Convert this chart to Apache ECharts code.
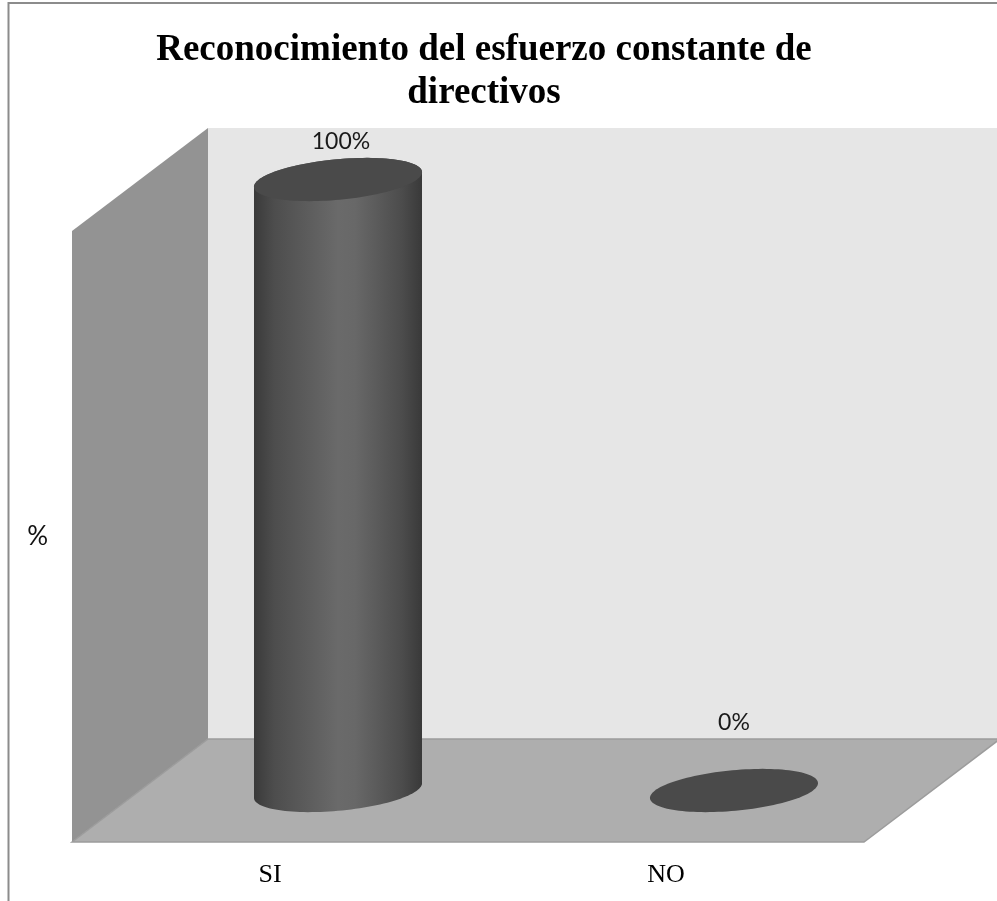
<!DOCTYPE html>
<html>
<head>
<meta charset="utf-8">
<style>
  html, body { margin: 0; padding: 0; background: #ffffff; }
  #chart { width: 997px; height: 901px; }
</style>
<script src="https://cdn.jsdelivr.net/npm/echarts@6/dist/echarts.min.js"></script>
</head>
<body>
<div id="chart"></div>
<script>
const categories = ['SI', 'NO'];
const percentValues = [100, 0];
const chartTitle = 'Reconocimiento del esfuerzo constante de\ndirectivos';
const valueAxisName = '%';

// Oblique projection of the 3D box: the full depth shifts a point right and up.
const DEPTH_X = 136;
const DEPTH_Y = -103;
const RADIUS_X = 79;      // cylinder half-width along the x direction
const RADIUS_DEPTH = 0.21; // cylinder radius as a share of the full depth
const LABEL_LIFT = { top: 38, flat: 68 };

// Point on the cylinder's elliptical section around (cx, cy).
function sectionPoint(cx, cy, t) {
  return [
    cx + RADIUS_X * Math.cos(t) + RADIUS_DEPTH * DEPTH_X * Math.sin(t),
    cy + RADIUS_DEPTH * DEPTH_Y * Math.sin(t)
  ];
}

function sectionOutline(cx, cy, from, to, steps) {
  const pts = [];
  for (let i = 0; i <= steps; i++) {
    pts.push(sectionPoint(cx, cy, from + (to - from) * i / steps));
  }
  return pts;
}

function renderBox(params) {
  const g = params.coordSys;
  const left = g.x, right = g.x + g.width, top = g.y, bottom = g.y + g.height;
  const edge = '#9c9c9c';
  return {
    type: 'group',
    children: [
      { type: 'polygon', shape: { points: [
          [left + DEPTH_X, top + DEPTH_Y], [right + DEPTH_X, top + DEPTH_Y],
          [right + DEPTH_X, bottom + DEPTH_Y], [left + DEPTH_X, bottom + DEPTH_Y]] },
        style: { fill: '#e6e6e6' } },
      { type: 'polygon', shape: { points: [
          [left, top], [left + DEPTH_X, top + DEPTH_Y],
          [left + DEPTH_X, bottom + DEPTH_Y], [left, bottom]] },
        style: { fill: '#939393' } },
      { type: 'polygon', shape: { points: [
          [left, bottom], [left + DEPTH_X, bottom + DEPTH_Y],
          [right + DEPTH_X, bottom + DEPTH_Y], [right, bottom]] },
        style: { fill: '#aeaeae', stroke: edge, lineWidth: 1.5 } }
    ]
  };
}

function renderCylinder(params, api) {
  const base = api.coord([api.value(0), 0]);
  const head = api.coord([api.value(0), api.value(1)]);
  const cx = base[0] + DEPTH_X / 2;
  const baseY = base[1] + DEPTH_Y / 2;
  const headY = head[1] + DEPTH_Y / 2;
  const children = [];
  // Tangent angle where the section reaches its leftmost and rightmost points.
  const tangent = Math.atan2(RADIUS_DEPTH * DEPTH_X, RADIUS_X);
  if (baseY - headY > 0.5) {
    const lower = sectionOutline(cx, baseY, tangent + Math.PI, tangent + 2 * Math.PI, 60);
    const upper = sectionOutline(cx, headY, tangent, tangent + Math.PI, 60);
    children.push({
      type: 'polygon',
      shape: { points: upper.concat(lower) },
      style: {
        fill: new echarts.graphic.LinearGradient(0, 0, 1, 0, [
          { offset: 0, color: '#3a3a3a' },
          { offset: 0.12, color: '#4d4d4d' },
          { offset: 0.5, color: '#6a6a6a' },
          { offset: 0.6, color: '#686868' },
          { offset: 0.88, color: '#4c4c4c' },
          { offset: 1, color: '#393939' }
        ])
      }
    });
  }
  children.push({
    type: 'polygon',
    shape: { points: sectionOutline(cx, headY, 0, 2 * Math.PI, 120) },
    style: { fill: '#4a4a4a' }
  });
  const lift = api.value(1) > 0 ? LABEL_LIFT.top : LABEL_LIFT.flat;
  children.push({
    type: 'text',
    style: {
      text: api.value(1) + '%',
      x: cx + (api.value(1) > 0 ? 3 : 0),
      y: headY - lift,
      align: 'center',
      verticalAlign: 'middle',
      fill: '#1a1a1a',
      font: '23px Lato'
    }
  });
  return { type: 'group', children: children };
}

const chart = echarts.init(document.getElementById('chart'), null, { renderer: 'canvas' });
chart.setOption({
  animation: false,
  backgroundColor: '#ffffff',
  title: {
    text: chartTitle,
    left: 484,
    top: 29,
    padding: 0,
    textAlign: 'center',
    textStyle: {
      fontFamily: 'Liberation Serif',
      fontWeight: 'bold',
      fontSize: 37,
      lineHeight: 43,
      color: '#000000'
    }
  },
  grid: { left: 72, top: 231, width: 792, height: 611 },
  xAxis: {
    type: 'category',
    data: categories,
    axisLine: { show: false },
    axisTick: { show: false },
    axisLabel: {
      margin: 20,
      fontFamily: 'Liberation Serif',
      fontSize: 26,
      color: '#000000'
    }
  },
  yAxis: {
    type: 'value',
    min: 0,
    max: 100,
    name: valueAxisName,
    nameLocation: 'middle',
    nameRotate: 0,
    nameGap: 24,
    nameTextStyle: { fontFamily: 'Lato', fontSize: 26, color: '#111111' },
    axisLine: { show: false },
    axisTick: { show: false },
    axisLabel: { show: false },
    splitLine: { show: false }
  },
  series: [
    {
      type: 'custom',
      coordinateSystem: 'cartesian2d',
      renderItem: renderBox,
      data: [[0, 0]],
      silent: true,
      clip: false,
      z: 1
    },
    {
      type: 'custom',
      coordinateSystem: 'cartesian2d',
      renderItem: renderCylinder,
      encode: { x: 0, y: 1 },
      data: categories.map((c, i) => [i, percentValues[i]]),
      clip: false,
      z: 2
    }
  ],
  graphic: [
    {
      type: 'polyline',
      shape: { points: [[8.5, 901], [8.5, 3], [997, 3]] },
      style: { stroke: '#8c8c8c', lineWidth: 2, fill: 'none' },
      silent: true
    }
  ]
});
</script>
</body>
</html>
